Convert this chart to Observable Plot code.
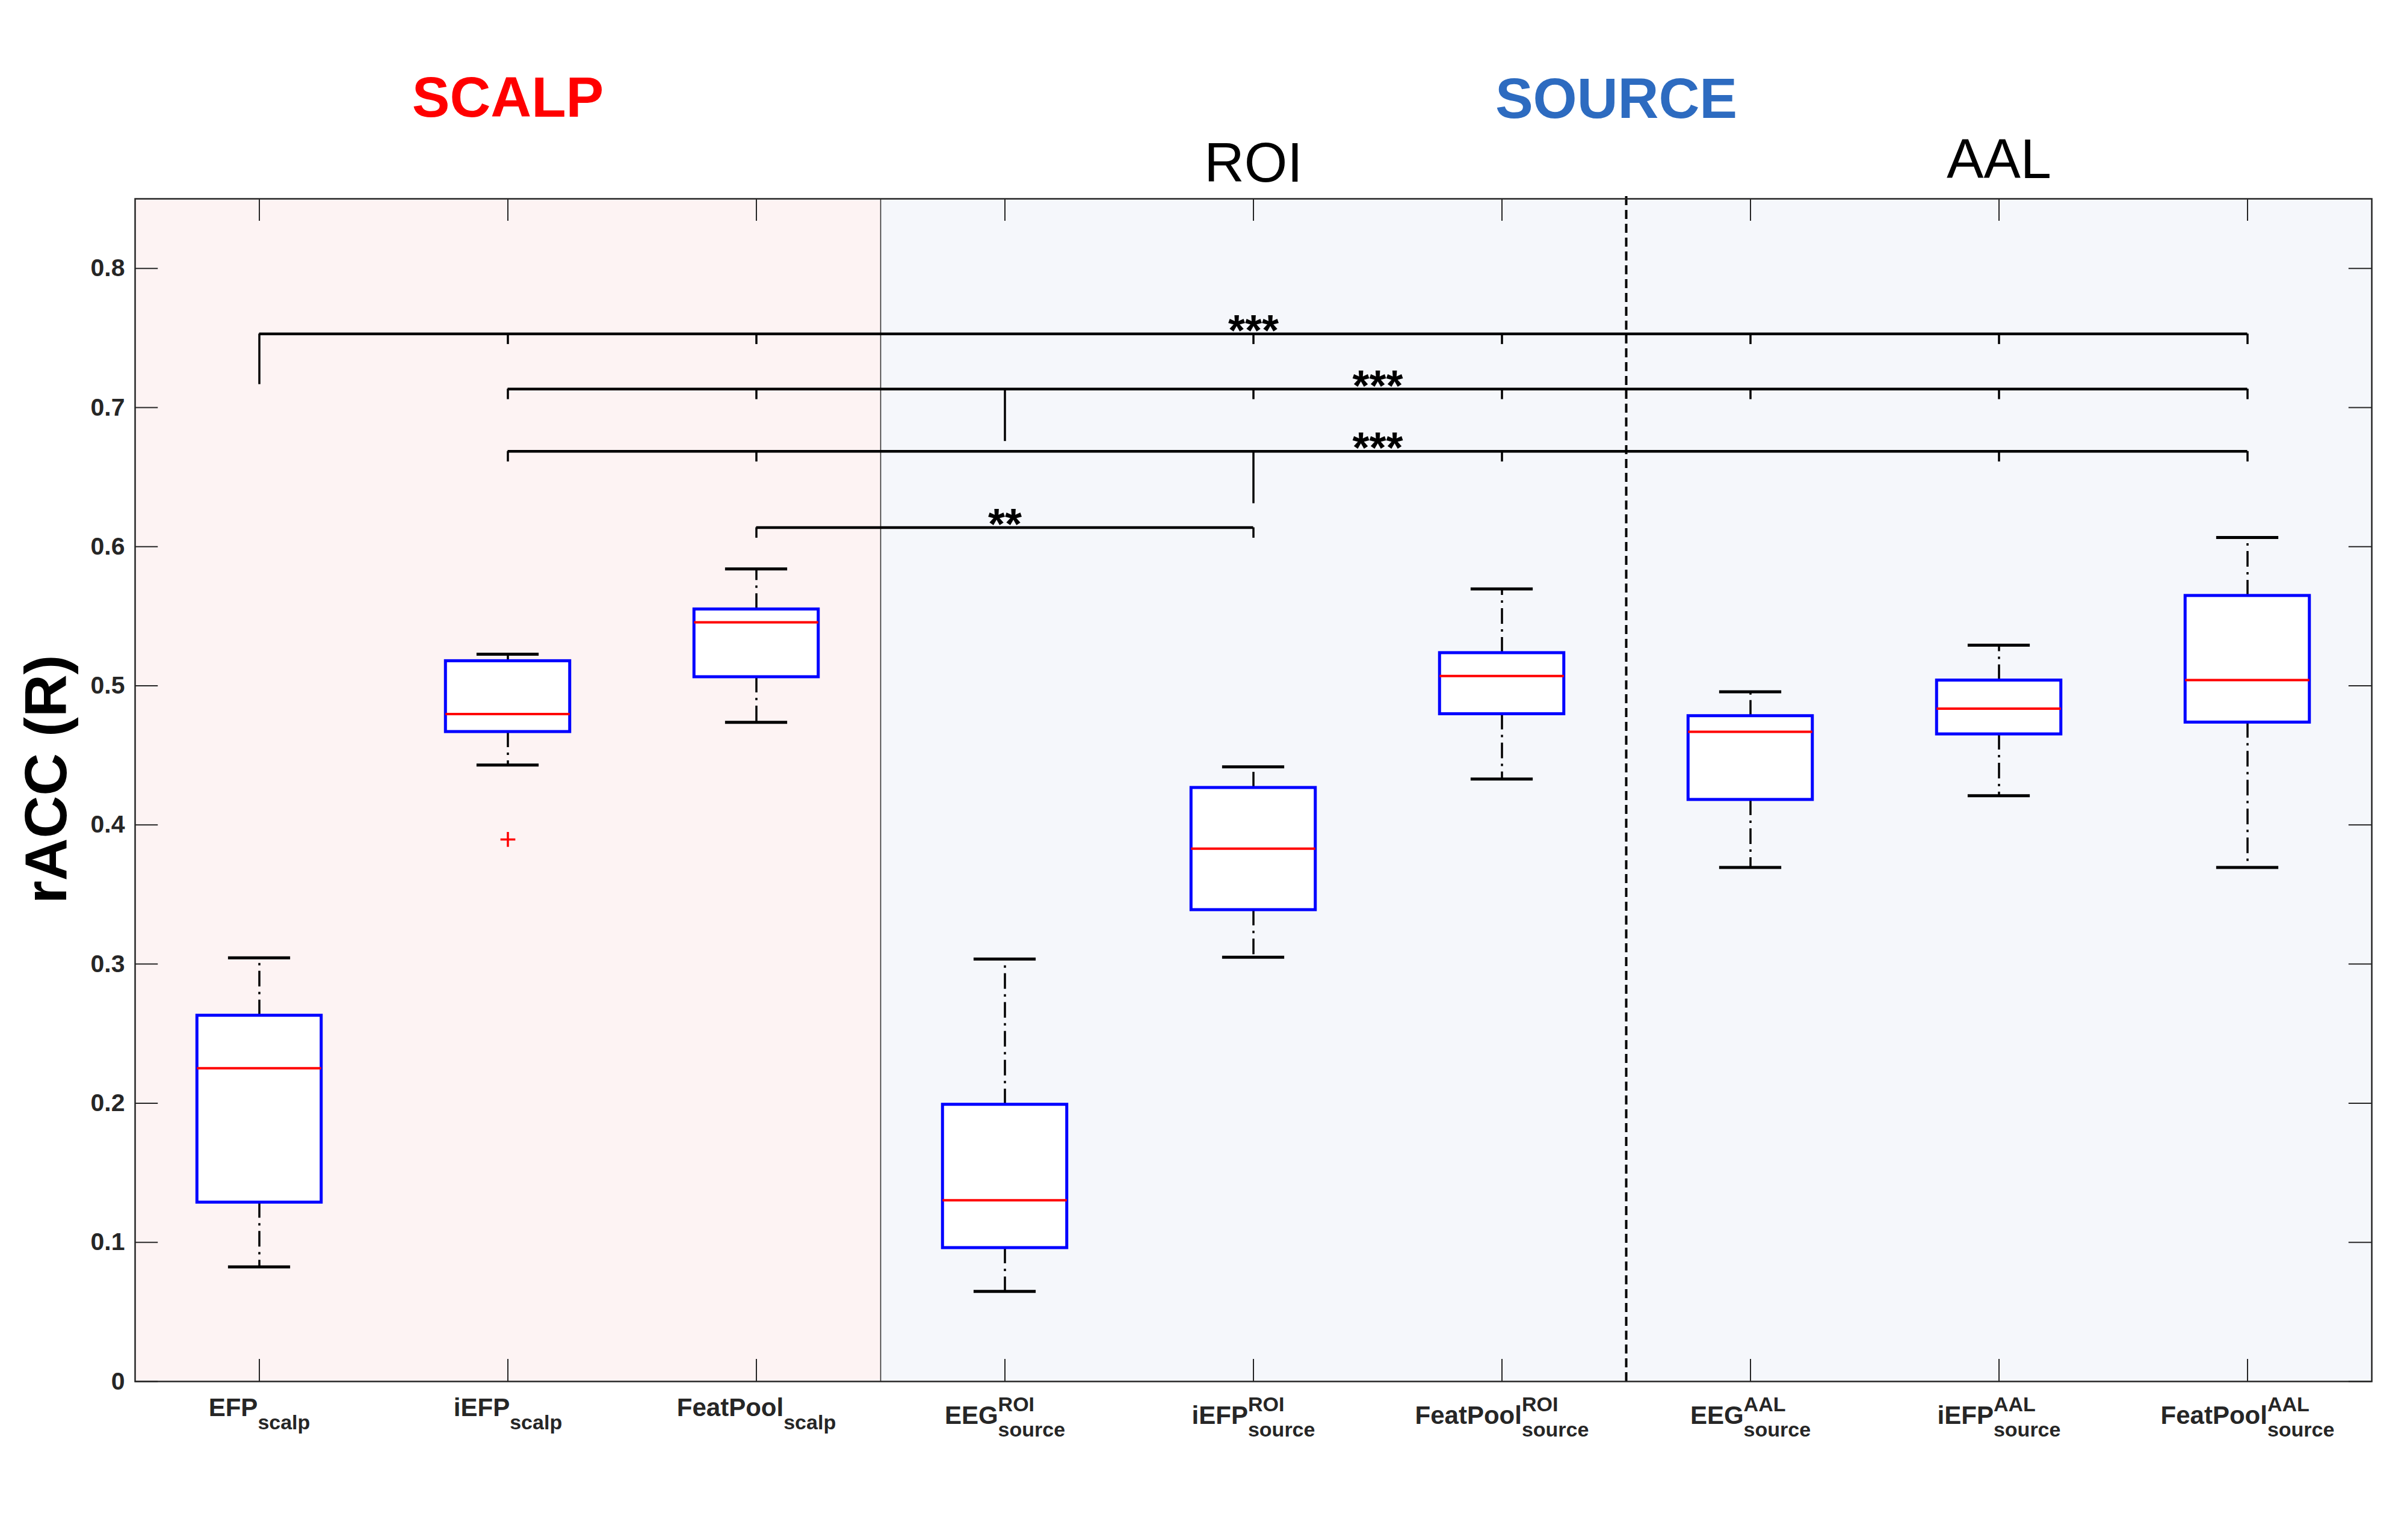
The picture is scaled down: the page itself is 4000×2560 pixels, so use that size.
<!DOCTYPE html>
<html>
<head>
<meta charset="utf-8">
<script src="https://cdn.jsdelivr.net/npm/d3@7"></script>
<script src="https://cdn.jsdelivr.net/npm/@observablehq/plot@0.6"></script>
<style>
  html, body { margin: 0; padding: 0; background: white; }
  #chart svg { display: block; }
</style>
</head>
<body>
<div id="chart"></div>
<script>
// ---------- data ----------
const categories = ["EFP", "iEFP", "FeatPool", "EEG", "iEFP", "FeatPool", "EEG", "iEFP", "FeatPool"];
const labelSup   = ["", "", "", "ROI", "ROI", "ROI", "AAL", "AAL", "AAL"];
const labelSub   = ["scalp", "scalp", "scalp", "source", "source", "source", "source", "source", "source"];

const whiskerLow  = [0.0824, 0.4431, 0.4738, 0.0647, 0.3049, 0.4330, 0.3694, 0.4210, 0.3694];
const q1          = [0.1287, 0.4669, 0.5063, 0.0960, 0.3389, 0.4797, 0.4181, 0.4652, 0.4737];
const median      = [0.2252, 0.4797, 0.5456, 0.1302, 0.3829, 0.5070, 0.4669, 0.4836, 0.5041];
const q3          = [0.2630, 0.5178, 0.5550, 0.1990, 0.4267, 0.5236, 0.4783, 0.5039, 0.5647];
const whiskerHigh = [0.3045, 0.5227, 0.5840, 0.3036, 0.4418, 0.5696, 0.4957, 0.5292, 0.6066];

const outlierCategory = [2];
const outlierValue    = [0.3896];

const yTicks = [0, 0.1, 0.2, 0.3, 0.4, 0.5, 0.6, 0.7, 0.8];

// significance brackets
const sigFrom   = [1, 2, 2, 3];
const sigTo     = [9, 9, 9, 5];
const sigLevel  = [0.7529, 0.7133, 0.6685, 0.6137];
const sigLegX   = [1, 4, 5, null];
const sigLegEnd = [0.7166, 0.6757, 0.6310, null];
const sigTicks  = [[2, 3, 5, 6, 7, 8, 9], [2, 3, 5, 6, 7, 8, 9], [2, 3, 6, 8, 9], [3, 5]];
const sigStars  = ["***", "***", "***", "**"];
const sigStarX  = [5, 5.5, 5.5, 4];

const groupText = ["SCALP", "SOURCE"];
const atlasText = ["ROI", "AAL"];
const regionName = ["scalp", "source"];
const regionFrom = [0.5, 3.5];
const regionTo   = [3.5, 9.5];

// ---------- layout / style ----------
const groupLayout = {x: [2, 6.46], y: [0.922, 0.9213], fill: ["#ff0000", "#2d6bc0"]};
const atlasLayout = {x: [5, 8], y: [0.875, 0.8777]};
const regionFill = {scalp: "#fdf3f3", source: "#f5f7fb"};
const FONT = "Liberation Sans, Arial, Helvetica, sans-serif";
const yMax = 0.85;

// ---------- derived tables ----------
const boxes = categories.map((c, i) => ({
  x: i + 1, lo: whiskerLow[i], q1: q1[i], med: median[i], q3: q3[i], hi: whiskerHigh[i]
}));
const outliers = outlierCategory.map((c, i) => ({x: c, y: outlierValue[i]}));
const regions = regionName.map((n, i) => ({name: n, x1: regionFrom[i], x2: regionTo[i]}));
const bars = sigFrom.map((f, i) => ({x1: f, x2: sigTo[i], y: sigLevel[i]}));
const legs = sigLegX.map((x, i) => ({x, y1: sigLegEnd[i], y2: sigLevel[i]})).filter(d => d.x != null);
const smallTicks = sigTicks.flatMap((arr, i) => arr.map(x => ({x, y: sigLevel[i]})));
const stars = sigStars.map((s, i) => ({text: s, x: sigStarX[i], y: sigLevel[i]}));
const groups = groupText.map((t, i) => ({text: t, i, x: groupLayout.x[i], y: groupLayout.y[i]}));
const atlases = atlasText.map((t, i) => ({text: t, x: atlasLayout.x[i], y: atlasLayout.y[i]}));
const xPositions = categories.map((c, i) => i + 1);

const xTickLen = 0.0925;   // inward y-tick length in x units
const yTickLen = 0.016;    // inward x-tick length in y units
const ink = "#262626";

const chart = Plot.plot({
  width: 4000,
  height: 2560,
  marginLeft: 224,
  marginRight: 59,
  marginTop: 330,
  marginBottom: 264,
  style: {fontFamily: FONT, background: "white", overflow: "visible"},
  x: {domain: [0.5, 9.5], axis: null},
  y: {domain: [0, yMax], axis: null},
  marks: [
    // shaded regions
    Plot.rect(regions, {x1: "x1", x2: "x2", y1: 0, y2: yMax, fill: d => regionFill[d.name]}),
    // separators
    Plot.ruleX([3.5], {y1: 0, y2: yMax, stroke: "#333", strokeWidth: 1.6}),
    Plot.ruleX([6.5], {y1: 0, y2: yMax + 0.005, stroke: "black", strokeWidth: 4, strokeDasharray: "15,8"}),
    // significance brackets
    Plot.ruleY(bars, {y: "y", x1: "x1", x2: "x2", stroke: "black", strokeWidth: 4.5}),
    Plot.ruleX(legs, {x: "x", y1: "y1", y2: "y2", stroke: "black", strokeWidth: 3.5}),
    Plot.ruleX(smallTicks, {x: "x", y1: d => d.y - 0.0075, y2: "y", stroke: "black", strokeWidth: 3.5}),
    Plot.text(stars, {x: "x", y: "y", text: "text", fontSize: 72, fontWeight: "bold", lineAnchor: "bottom", dy: 19, fill: "black"}),
    // whiskers
    Plot.ruleX(boxes, {x: "x", y1: "q3", y2: "hi", stroke: "black", strokeWidth: 3.5, strokeDasharray: "26,9,4,9"}),
    Plot.ruleX(boxes, {x: "x", y1: "q1", y2: "lo", stroke: "black", strokeWidth: 3.5, strokeDasharray: "26,9,4,9"}),
    Plot.ruleY(boxes, {y: "hi", x1: d => d.x - 0.125, x2: d => d.x + 0.125, stroke: "black", strokeWidth: 5}),
    Plot.ruleY(boxes, {y: "lo", x1: d => d.x - 0.125, x2: d => d.x + 0.125, stroke: "black", strokeWidth: 5}),
    // boxes
    Plot.rect(boxes, {x1: d => d.x - 0.25, x2: d => d.x + 0.25, y1: "q1", y2: "q3", fill: "white", stroke: "#0000ff", strokeWidth: 5}),
    Plot.ruleY(boxes, {y: "med", x1: d => d.x - 0.25, x2: d => d.x + 0.25, stroke: "#ff0000", strokeWidth: 4}),
    // outliers
    Plot.dot(outliers, {x: "x", y: "y", symbol: "plus", r: 8, stroke: "#ff0000", strokeWidth: 3.5}),
    // inward ticks
    Plot.ruleY(yTicks, {y: d => d, x1: 0.5, x2: 0.5 + xTickLen, stroke: ink, strokeWidth: 2}),
    Plot.ruleY(yTicks, {y: d => d, x1: 9.5 - xTickLen, x2: 9.5, stroke: ink, strokeWidth: 2}),
    Plot.ruleX(xPositions, {x: d => d, y1: 0, y2: yTickLen, stroke: ink, strokeWidth: 2}),
    Plot.ruleX(xPositions, {x: d => d, y1: yMax - yTickLen, y2: yMax, stroke: ink, strokeWidth: 2}),
    // frame
    Plot.frame({stroke: ink, strokeWidth: 2.5}),
    // axes
    Plot.axisY({ticks: yTicks, tickSize: 0, tickPadding: 17, fontSize: 41, fontWeight: "bold", color: ink,
      tickFormat: d => d === 0 ? "0" : d3.format(".1f")(d), label: null}),
    Plot.axisX({ticks: xPositions, tickSize: 0, tickPadding: 28, fontSize: 42, fontWeight: "bold", color: ink,
      tickFormat: d => categories[d - 1], label: null}),
    // y-axis title
    Plot.text(["rACC (R)"], {frameAnchor: "left", y: 0.4328, dx: -184, rotate: -90, lineAnchor: "top",
      fontSize: 98, fontWeight: "bold", fill: "black", textAnchor: "middle"}),
    // headers
    Plot.text(groups, {x: "x", y: "y", text: "text", lineAnchor: "middle",
      fill: d => groupLayout.fill[d.i], fontWeight: "bold", fontSize: 94}),
    Plot.text(atlases, {x: "x", y: "y", text: "text", lineAnchor: "middle",
      fill: "black", fontWeight: "normal", fontSize: 92})
  ]
});

document.getElementById("chart").append(chart);

// rich tick labels (superscript / subscript)
d3.select(chart).selectAll('g[aria-label="x-axis tick label"] text').each(function (_, i) {
  const t = d3.select(this);
  t.text(null);
  const hasSup = labelSup[i] !== "";
  const base = t.append("tspan").text(categories[i]);
  if (hasSup) base.attr("dy", 13);
  let supW = 0;
  if (hasSup) {
    const sup = t.append("tspan").attr("font-size", 34).attr("dy", -21).text(labelSup[i]);
    supW = sup.node().getComputedTextLength();
  }
  if (labelSub[i]) {
    t.append("tspan").attr("font-size", 34)
      .attr("dy", hasSup ? 42 : 22)
      .attr("dx", hasSup ? -supW : 0)
      .text(labelSub[i]);
  }
});
</script>
</body>
</html>
